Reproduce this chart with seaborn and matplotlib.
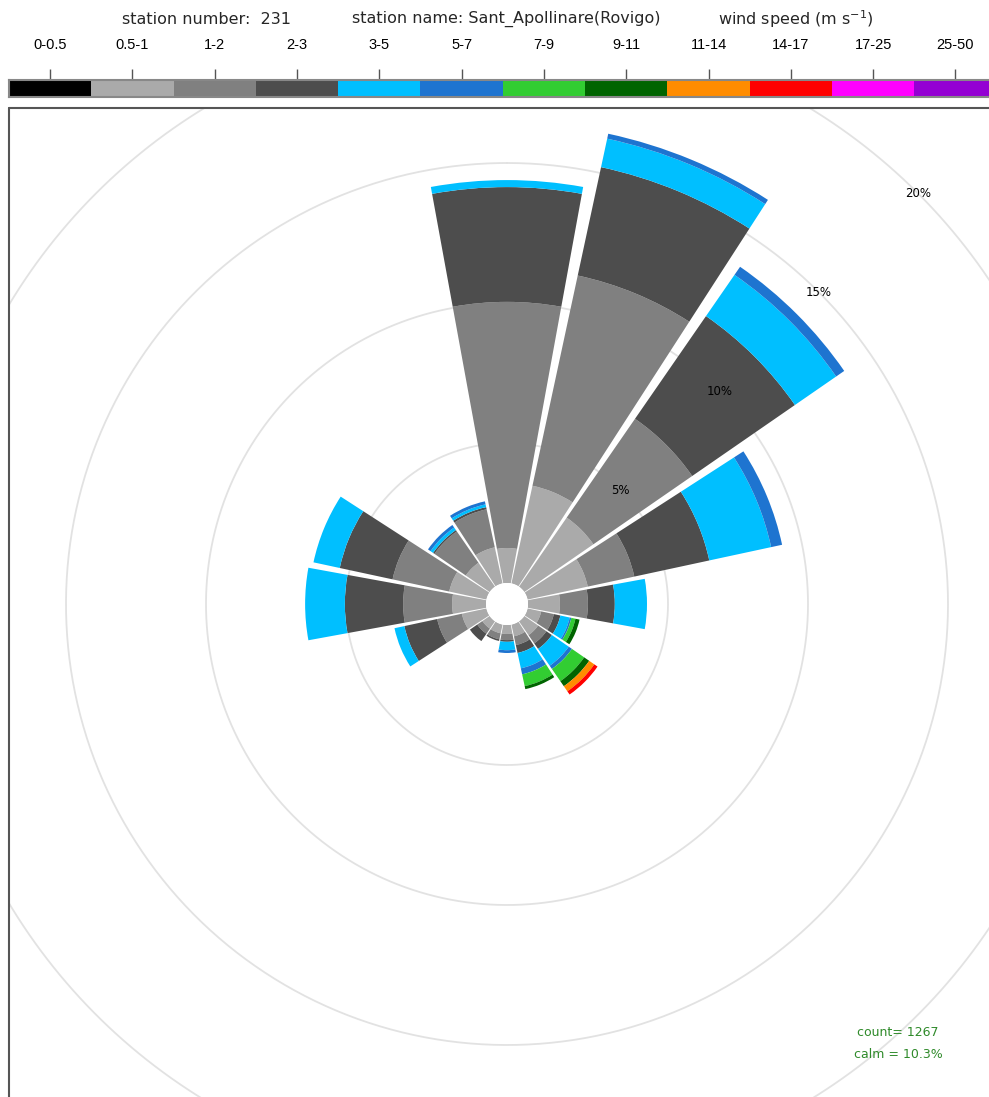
import numpy as np
import matplotlib
matplotlib.use('Agg')
import matplotlib.pyplot as plt
import seaborn as sns
from matplotlib.transforms import Bbox, TransformedBbox
from matplotlib.lines import Line2D

sns.set_theme(style='white')
plt.rcParams['font.family'] = ['Liberation Sans', 'DejaVu Sans']

# ---------------- data ----------------
directions = ['N', 'NNE', 'NE', 'ENE', 'E', 'ESE', 'SE', 'SSE',
              'S', 'SSW', 'SW', 'WSW', 'W', 'WNW', 'NW', 'NNW']
speed_classes = ['0-0.5', '0.5-1', '1-2', '2-3', '3-5', '5-7', '7-9', '9-11',
                 '11-14', '14-17', '17-25', '25-50']
class_colors = ['#000000', '#aaaaaa', '#808080', '#4d4d4d', '#00bfff', '#1e74d0',
                '#32cd32', '#006400', '#ff8c00', '#ff0000', '#ff00ff', '#9400d3']

# frequency (%) per direction for each speed class
p_0_05 = [0, 0, 0, 0, 0, 0, 0, 0, 0, 0, 0, 0, 0, 0, 0, 0]
p_05_1 = [1.25, 3.57, 3.0, 2.2, 1.14, 0.5, 0.6, 0.43, 0.32, 0.32, 0.32, 0.9, 1.21, 1.36, 1.04, 1.32]
p_1_2 = [8.79, 7.68, 4.29, 1.7, 1.0, 0.46, 0.36, 0.32, 0.22, 0.22, 0.22, 0.9, 1.75, 2.07, 1.36, 1.39]
p_2_3 = [4.10, 3.96, 4.46, 2.74, 0.96, 0.24, 0.24, 0.29, 0.06, 0.06, 0.32, 1.2, 2.08, 1.93, 0.06, 0.08]
p_3_5 = [0.25, 1.04, 1.79, 2.26, 1.15, 0.34, 0.73, 0.56, 0.3, 0, 0, 0.36, 1.42, 0.96, 0.11, 0.1]
p_5_7 = [0, 0.18, 0.35, 0.4, 0, 0.06, 0.14, 0.22, 0.1, 0, 0, 0, 0, 0, 0.11, 0.11]
p_7_9 = [0, 0, 0, 0, 0, 0.15, 0.53, 0.43, 0, 0, 0, 0, 0, 0, 0, 0]
p_9_11 = [0, 0, 0, 0, 0, 0.15, 0.22, 0.11, 0, 0, 0, 0, 0, 0, 0, 0]
p_11_14 = [0, 0, 0, 0, 0, 0, 0.22, 0, 0, 0, 0, 0, 0, 0, 0, 0]
p_14_17 = [0, 0, 0, 0, 0, 0, 0.14, 0, 0, 0, 0, 0, 0, 0, 0, 0]
p_17_25 = [0, 0, 0, 0, 0, 0, 0, 0, 0, 0, 0, 0, 0, 0, 0, 0]
p_25_50 = [0, 0, 0, 0, 0, 0, 0, 0, 0, 0, 0, 0, 0, 0, 0, 0]

ring_levels = [5, 10, 15, 20]
ring_labels = ['5%', '10%', '15%', '20%']
station_number = '231'
station_name = 'Sant_Apollinare(Rovigo)'
count = 1267
calm = 10.3

# ---------------- figure ----------------
W, H = 989, 1097
fig = plt.figure(figsize=(W / 100, H / 100), dpi=100)
fig.patch.set_facecolor('white')

cx, cy = 507, 604          # rose centre (pixels from top-left)
px_per_pct = 28.0
calm_px = 21.0
rmax = 25
R = calm_px + px_per_pct * rmax

ax = fig.add_axes([(cx - R) / W, (H - cy - R) / H, 2 * R / W, 2 * R / H], projection='polar')
ax.set_theta_zero_location('N')
ax.set_theta_direction(-1)
ax.set_rlim(0, rmax)
ax.set_rorigin(-calm_px / px_per_pct)
ax.set_xticks([])
ax.set_yticks([])
ax.grid(False)
for sp in ax.spines.values():
    sp.set_visible(False)
    sp.set_linewidth(0)
    sp.set_edgecolor('none')
ax.patch.set_visible(False)

frame_bbox = TransformedBbox(Bbox.from_extents(9 / W, 0, 1.0, 1 - 108 / H), fig.transFigure)

tt = np.linspace(0, 2 * np.pi, 720)
for r in ring_levels:
    ln, = ax.plot(tt, np.full_like(tt, r), color='#e2e2e2', lw=1.3, zorder=0.5)
    ln.set_clip_box(frame_bbox)

theta = np.deg2rad(np.arange(len(directions)) * 22.5)
classes = [p_0_05, p_05_1, p_1_2, p_2_3, p_3_5, p_5_7, p_7_9, p_9_11,
           p_11_14, p_14_17, p_17_25, p_25_50]
bottom = np.zeros(len(directions))
for vals, col in zip(classes, class_colors):
    vals = np.asarray(vals, dtype=float)
    m = vals > 0
    if m.any():
        ax.bar(theta[m], vals[m], width=np.deg2rad(20.7), bottom=bottom[m], color=col,
               linewidth=0, edgecolor='none', align='center', zorder=2)
    bottom += vals

for lev, lab in zip(ring_levels, ring_labels):
    ax.text(np.deg2rad(45), lev, lab, ha='center', va='center', fontsize=8.5,
            color='black', zorder=5, family=['DejaVu Sans'])

# ---------------- colour legend ----------------
seg = 82.3
cax = fig.add_axes([9 / W, (H - 97) / H, 12 * seg / W, 17 / H])
cax.bar(np.arange(12) + 0.5, np.ones(12), width=1.0, color=class_colors, linewidth=0)
cax.set_xlim(0, 12)
cax.set_ylim(0, 1)
cax.xaxis.tick_top()
cax.set_xticks(np.arange(12) + 0.5, speed_classes)
cax.set_yticks([])
cax.tick_params(axis='x', top=True, bottom=False, length=8, width=1, color='#555555',
                labelsize=10.5, pad=12, labelcolor='black')
for s in cax.spines.values():
    s.set_color('#888888')
    s.set_linewidth(1.5)

hdr = dict(ha='center', va='center', fontsize=11.5, family=['DejaVu Sans'])
fig.text(207 / W, 1 - 19 / H, f'station number:  {station_number}', **hdr)
fig.text(506 / W, 1 - 19 / H, f'station name: {station_name}', **hdr)
fig.text(796 / W, 1 - 19 / H, r'wind speed (m s$^{-1}$)', **hdr)

grn = dict(ha='center', va='center', fontsize=9, color='#2f8a2a', family=['DejaVu Sans'])
fig.text(898 / W, 1 - 1032 / H, f'count= {count}', **grn)
fig.text(898 / W, 1 - 1054 / H, f'calm = {calm}%', **grn)

# plot frame
fig.add_artist(Line2D([9 / W, 9 / W], [0, 1 - 108 / H], transform=fig.transFigure, color='#555555', lw=1.5))
fig.add_artist(Line2D([9 / W, 1.0], [1 - 108 / H, 1 - 108 / H], transform=fig.transFigure, color='#555555', lw=1.5))

fig.savefig('out.png', dpi=100, facecolor='white')
